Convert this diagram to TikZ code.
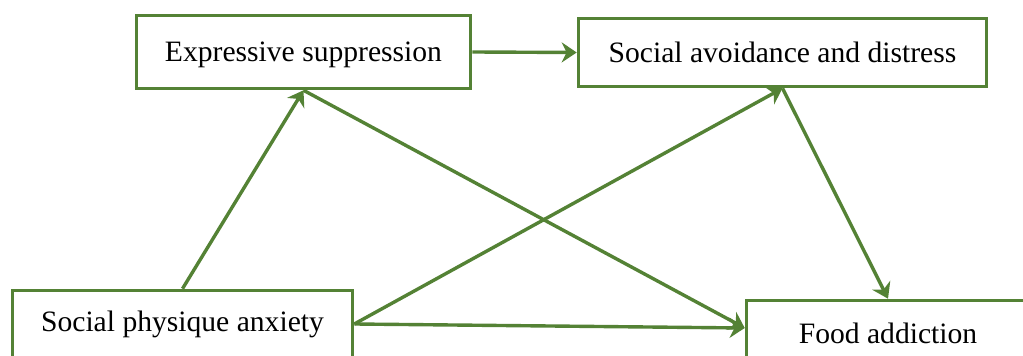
\documentclass[tikz,border=0pt]{standalone}
\usepackage{fontspec}
\setmainfont{Liberation Serif}
\usetikzlibrary{arrows.meta}
\definecolor{pathgreen}{RGB}{84,130,53}

\begin{document}
\begin{tikzpicture}[
    x=0.5pt, y=-0.5pt,
    var/.style={draw=pathgreen, line width=1.8pt, fill=white, inner sep=0pt, font=\fontsize{14.8}{17}\selectfont},
    link/.style={-{Stealth[length=7.5pt, width=10pt]}, draw=pathgreen, line width=1.7pt},
]
\useasboundingbox (0, 0) rectangle (1023, 356);
\clip (0, 0) rectangle (1023, 356);
\node[var, minimum width=167pt, minimum height=36.5pt, text depth=0.5pt] (es) at (303.5, 52) {Expressive suppression};
\node[var, minimum width=204pt, minimum height=34pt] (sad) at (782.5, 52.5) {Social avoidance and distress};
\node[var, minimum width=170pt, minimum height=33.5pt] (spa) at (182.5, 324) {Social physique anxiety};
\node[var, minimum width=141.5pt, minimum height=32.5pt] (fa) at (888, 333) {Food addiction};
\draw[link] (es.east) -- (sad.west);
\draw[link] (spa.north) -- (es.south);
\draw[link] (sad.south) -- (fa.north);
\draw[link] (es.south) -- ([yshift=2.5pt]fa.west);
\draw[link] (spa.east) -- (sad.south);
\draw[link] (spa.east) -- ([yshift=2.5pt]fa.west);
\end{tikzpicture}
\end{document}
